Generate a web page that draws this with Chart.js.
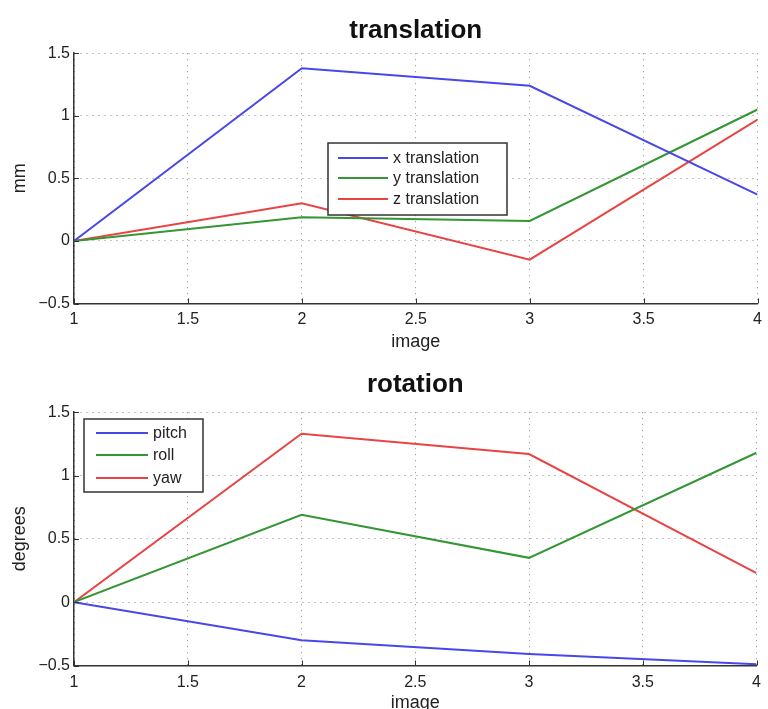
<!DOCTYPE html>
<html><head><meta charset="utf-8">
<script src="https://cdn.jsdelivr.net/npm/chart.js@4.4.0/dist/chart.umd.min.js"></script>
<style>
html,body{margin:0;padding:0;background:#fff;overflow:hidden;width:768px;height:709px}
.w{position:absolute;left:0;width:768px}
#w1{top:0;height:355px}
#w2{top:355px;height:360px}
canvas{display:block}
</style></head><body>
<div class="w" id="w1"><canvas id="c1" width="768" height="355"></canvas></div>
<div class="w" id="w2"><canvas id="c2" width="768" height="360"></canvas></div>
<script>
// ---- data ----
const images = [1, 2, 3, 4];
const xTranslation = [0, 1.38, 1.24, 0.37];
const yTranslation = [0, 0.19, 0.16, 1.05];
const zTranslation = [0, 0.30, -0.15, 0.97];
const pitch = [0, -0.30, -0.41, -0.49];
const roll = [0, 0.69, 0.35, 1.18];
const yaw = [0, 1.33, 1.17, 0.23];
const xTickValues = [1, 1.5, 2, 2.5, 3, 3.5, 4];
const xTickLabels = ['1', '1.5', '2', '2.5', '3', '3.5', '4'];
const yTickValues = [-0.5, 0, 0.5, 1, 1.5];
const yTickLabels = ['\u22120.5', '0', '0.5', '1', '1.5'];

const FONT = "'Liberation Sans', Arial, Helvetica, sans-serif";
const TXT = '#222';
const GRID = 'rgba(60,60,60,0.6)';
const BLUE = 'rgb(72,72,232)';
const GREEN = 'rgb(52,150,52)';
const RED = 'rgb(232,68,68)';

const matlabPlugin = {
  id: 'matlab',
  afterDatasetsDraw(chart, args, opts) {
    const ctx = chart.ctx, ca = chart.chartArea;
    const xs = chart.scales.x, ys = chart.scales.y;
    ctx.save();
    ctx.strokeStyle = '#333';
    ctx.lineWidth = 1;
    ctx.beginPath();
    xs.ticks.forEach(t => {
      const px = Math.round(xs.getPixelForValue(t.value)) + 0.5;
      ctx.moveTo(px, ca.bottom); ctx.lineTo(px, ca.bottom - 5);
    });
    ys.ticks.forEach(t => {
      const py = Math.round(ys.getPixelForValue(t.value)) + 0.5;
      ctx.moveTo(ca.left, py); ctx.lineTo(ca.left + 5, py);
    });
    ctx.stroke();
    const b = opts.box;
    if (b) {
      ctx.fillStyle = '#fff';
      ctx.fillRect(b.x, b.y, b.w, b.h);
      ctx.strokeStyle = '#333';
      ctx.lineWidth = 1.5;
      ctx.strokeRect(b.x, b.y, b.w, b.h);
      ctx.font = '16px ' + FONT;
      ctx.textBaseline = 'middle';
      ctx.textAlign = 'left';
      chart.data.datasets.forEach((ds, i) => {
        const ry = b.y + b.rows[i];
        ctx.strokeStyle = ds.borderColor;
        ctx.lineWidth = 2;
        ctx.beginPath();
        ctx.moveTo(b.x + b.lineX, ry);
        ctx.lineTo(b.x + b.lineX + b.lineLen, ry);
        ctx.stroke();
        ctx.fillStyle = TXT;
        ctx.fillText(ds.label, b.x + b.lineX + b.lineLen + b.gap, ry + 1);
      });
    }
    ctx.restore();
  }
};

function series(label, values, color) {
  return {
    label: label,
    data: images.map((x, i) => ({ x: x, y: values[i] })),
    borderColor: color,
    backgroundColor: color,
    borderWidth: 2,
    pointRadius: 0,
    tension: 0,
    fill: false
  };
}

function makeOptions(cfg) {
  return {
    responsive: false,
    animation: false,
    events: [],
    layout: { padding: { left: 0, right: cfg.padRight, top: 0, bottom: 0 } },
    plugins: {
      legend: { display: false },
      tooltip: { enabled: false },
      title: {
        display: true, text: cfg.title, fullSize: false, color: '#111',
        font: { family: FONT, size: 26, weight: 'bold', lineHeight: 1.2 },
        padding: { top: cfg.titleTop, bottom: cfg.titleBottom }
      },
      matlab: { box: cfg.legend }
    },
    scales: {
      x: {
        type: 'linear', min: 1, max: 4,
        afterBuildTicks: s => { s.ticks = xTickValues.map(v => ({ value: v })); },
        afterFit: s => { s.height = cfg.xHeight; },
        ticks: {
          callback: v => xTickLabels[xTickValues.indexOf(v)],
          font: { family: FONT, size: 16 }, color: TXT,
          padding: cfg.xTickPad, maxRotation: 0, autoSkip: false
        },
        grid: { color: GRID, lineWidth: 1, drawTicks: false },
        border: { display: true, color: '#333', width: 1.5, dash: [1, 5] },
        title: {
          display: true, text: 'image', color: TXT,
          font: { family: FONT, size: 18, lineHeight: 1.2 },
          padding: { top: 0, bottom: cfg.xTitleBottom }
        }
      },
      y: {
        type: 'linear', min: -0.5, max: 1.5,
        afterBuildTicks: s => { s.ticks = yTickValues.map(v => ({ value: v })); },
        afterFit: s => { s.width = 74; },
        ticks: {
          callback: v => yTickLabels[yTickValues.indexOf(v)],
          font: { family: FONT, size: 16 }, color: TXT,
          padding: 4, autoSkip: false
        },
        grid: { color: GRID, lineWidth: 1, drawTicks: false },
        border: { display: true, color: '#333', width: 1.5, dash: [1, 5] },
        title: {
          display: true, text: cfg.yTitle, color: TXT,
          font: { family: FONT, size: 18, lineHeight: 1.2 },
          padding: { top: 9, bottom: 0 }
        }
      }
    }
  };
}

new Chart(document.getElementById('c1'), {
  type: 'line',
  data: {
    datasets: [
      series('x translation', xTranslation, BLUE),
      series('y translation', yTranslation, GREEN),
      series('z translation', zTranslation, RED)
    ]
  },
  options: makeOptions({
    title: 'translation', yTitle: 'mm', padRight: 7,
    titleTop: 15, titleBottom: 7, xHeight: 51.5, xTickPad: 6, xTitleBottom: 2,
    legend: { x: 328, y: 143, w: 179, h: 72, rows: [15, 35, 56], lineX: 10, lineLen: 50, gap: 5 }
  }),
  plugins: [matlabPlugin]
});

new Chart(document.getElementById('c2'), {
  type: 'line',
  data: {
    datasets: [
      series('pitch', pitch, BLUE),
      series('roll', roll, GREEN),
      series('yaw', yaw, RED)
    ]
  },
  options: makeOptions({
    title: 'rotation', yTitle: 'degrees', padRight: 4,
    titleTop: 14, titleBottom: 12, xHeight: 49.5, xTickPad: 7, xTitleBottom: 1,
    legend: { x: 84, y: 64, w: 119, h: 73, rows: [14, 36, 59], lineX: 12, lineLen: 52, gap: 5 }
  }),
  plugins: [matlabPlugin]
});
</script>
</body></html>
